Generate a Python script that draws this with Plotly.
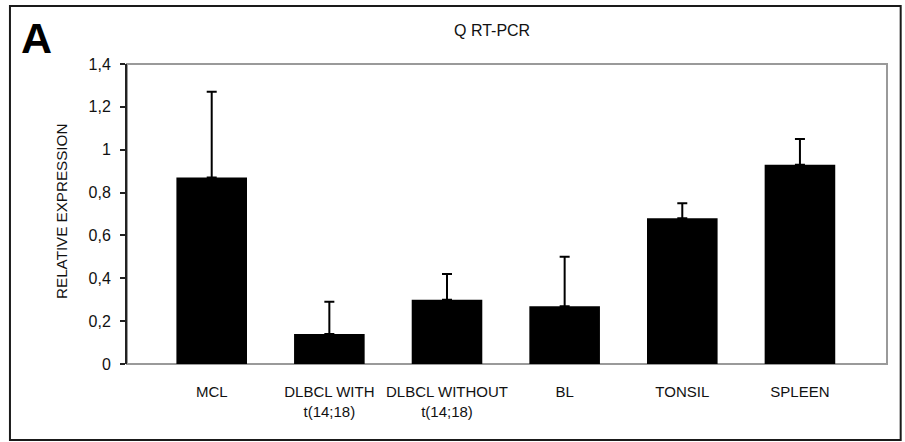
import plotly.graph_objects as go

# Relative expression by tissue type (Q RT-PCR), mean with upper error
categories = ["MCL", "DLBCL WITH<br>t(14;18)", "DLBCL WITHOUT<br>t(14;18)", "BL", "TONSIL", "SPLEEN"]
expression = [0.87, 0.14, 0.30, 0.27, 0.68, 0.93]
error_upper = [0.40, 0.15, 0.12, 0.23, 0.07, 0.12]
y_ticks = [0, 0.2, 0.4, 0.6, 0.8, 1.0, 1.2, 1.4]

FONT = "Liberation Sans, Arial, sans-serif"
positions = list(range(len(categories)))

fig = go.Figure()
fig.add_trace(go.Bar(
    x=positions,
    y=expression,
    width=0.6,
    marker=dict(color="black", line=dict(width=0)),
    error_y=dict(
        type="data",
        symmetric=False,
        array=error_upper,
        arrayminus=[0] * len(expression),
        color="black",
        thickness=2,
        width=5,
    ),
))

# plot frame (grey) drawn beneath the bars
fig.add_shape(type="rect", xref="paper", yref="paper", x0=0, x1=1, y0=0, y1=1,
              line=dict(color="#9a9a9a", width=2), layer="below")
# outer panel border
fig.add_shape(type="rect", xref="paper", yref="paper",
              x0=-0.154, x1=1.018, y0=-0.253, y1=1.193,
              line=dict(color="#1a1a1a", width=2))

fig.add_annotation(text="<b>A</b>", xref="paper", yref="paper", x=-0.119, y=1.087,
                   showarrow=False, font=dict(family=FONT, size=43, color="black"),
                   xanchor="center", yanchor="middle")
fig.add_annotation(text="Q RT-PCR", xref="paper", yref="paper", x=0.480, y=1.11,
                   showarrow=False, font=dict(family=FONT, size=16, color="#111"),
                   xanchor="center", yanchor="middle")
fig.add_annotation(text="RELATIVE EXPRESSION", xref="paper", yref="paper",
                   x=-0.0855, y=0.507, textangle=-90, showarrow=False,
                   font=dict(family=FONT, size=15.2, color="#111"),
                   xanchor="center", yanchor="middle")

fig.update_layout(
    width=905, height=442,
    margin=dict(l=127, r=18, t=64, b=78),
    paper_bgcolor="white", plot_bgcolor="white",
    separators=",.",
    showlegend=False,
    font=dict(family=FONT, size=15, color="#111"),
    xaxis=dict(
        range=[-0.72, 5.74],
        tickmode="array", tickvals=positions, ticktext=categories,
        showgrid=False, zeroline=False, showline=False, ticks="",
        ticklabelstandoff=17,
        tickfont=dict(family=FONT, size=15, color="#111"),
        fixedrange=True,
    ),
    yaxis=dict(
        range=[0, 1.4],
        tickmode="array", tickvals=y_ticks,
        showgrid=False, zeroline=False,
        showline=True, linecolor="#222", linewidth=2,
        ticks="outside", ticklen=5, tickwidth=1.5, tickcolor="#222",
        ticklabelstandoff=6,
        tickfont=dict(family=FONT, size=16, color="#111"),
        fixedrange=True,
    ),
)

fig.write_html("out.html")
